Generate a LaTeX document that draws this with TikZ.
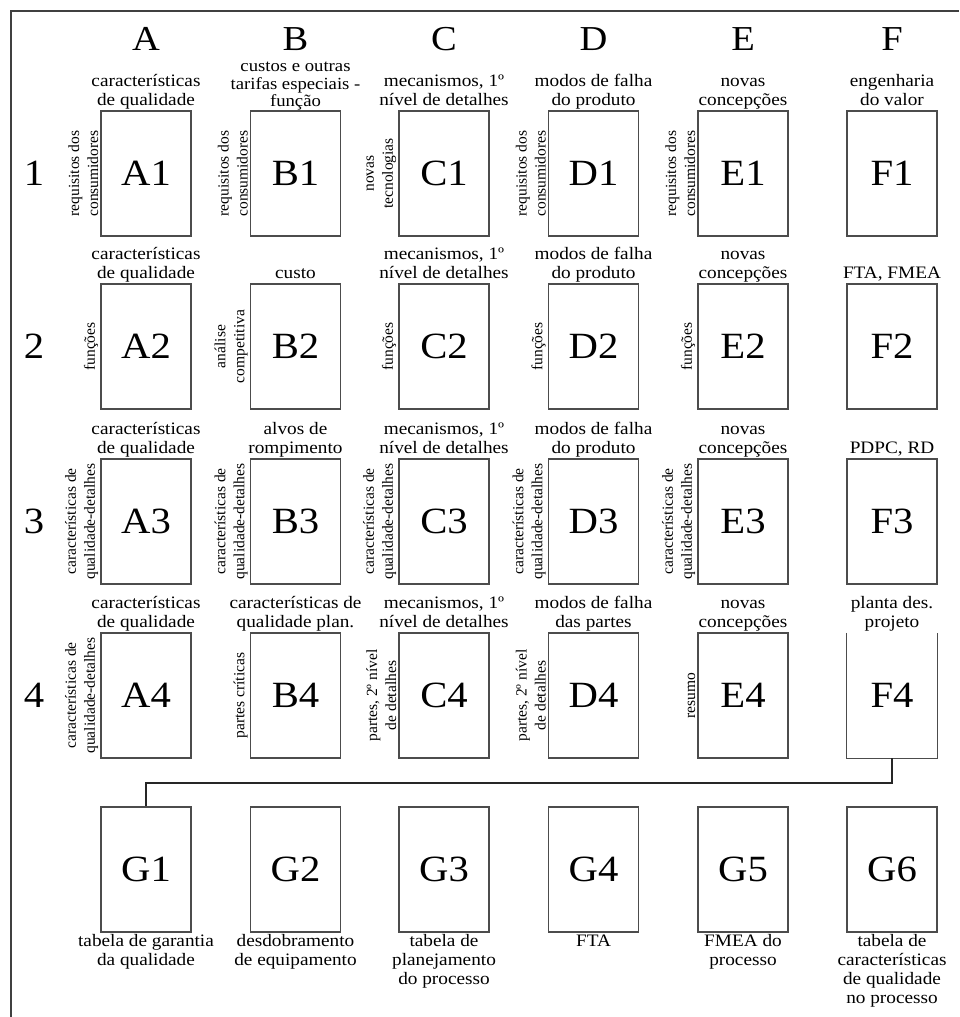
\documentclass[tikz,border=0pt]{standalone}
\usepackage{fontspec}
\setmainfont{Liberation Serif}
\newfontfamily\wideserif[FakeStretch=1.1]{Liberation Serif}
\usetikzlibrary{calc}
\definecolor{boxgray}{gray}{0.3}
\definecolor{framegray}{gray}{0.25}
\tikzset{
  box/.style={draw=boxgray, line width=1.3pt, minimum width=90pt, minimum height=125pt,
    inner sep=0pt, font=\wideserif\fontsize{37}{40}\selectfont},
  openbox/.style={minimum width=90pt, minimum height=125pt,
    inner sep=0pt, font=\wideserif\fontsize{37}{40}\selectfont},
  toplab/.style={anchor=south, inner sep=1pt, align=center,
    font=\wideserif\fontsize{17.5}{19}\selectfont, execute at end node={\vphantom{q}}},
  tightlab/.style={toplab, inner ysep=0pt, font=\wideserif\fontsize{17}{17.5}\selectfont},
  botlab/.style={anchor=north, inner sep=1pt, align=center,
    font=\wideserif\fontsize{17.5}{19}\selectfont, execute at begin node={\vphantom{l}}},
  sidelab/.style={rotate=90, anchor=south, inner sep=1pt, align=center,
    font=\fontsize{15.5}{19}\selectfont},
  head/.style={anchor=base, inner sep=0pt, font=\wideserif\fontsize{35}{40}\selectfont},
  rownum/.style={inner sep=0pt, font=\wideserif\fontsize{37}{40}\selectfont},
  conn/.style={line width=1.6pt, draw=black!85},
  frameline/.style={line width=2pt, draw=framegray}
}
\begin{document}
\begin{tikzpicture}[x=1pt, y=-1pt]
\useasboundingbox (0,0) rectangle (959,1017);
% frame
\draw[frameline] (11,1017) -- (11,11) -- (959,11);

% column headers
\foreach \c/\x in {A/146,B/295.5,C/444,D/593.5,E/743,F/892}{
  \node[head] (h\c) at (\x,50) {\c};
}
% row numbers
\foreach \r/\y in {1/173.5,2/346.5,3/521.5,4/695.5}{
  \node[rownum] (n\r) at (34,\y) {\r};
}
% boxes rows 1-3
\foreach \c/\x in {A/146,B/295.5,C/444,D/593.5,E/743,F/892}{
  \foreach \r/\y in {1/173.5,2/346.5,3/521.5}{
    \node[box] (\c\r) at (\x,\y) {\c\r};
  }
}
% row 4
\foreach \c/\x in {A/146,B/295.5,C/444,D/593.5,E/743}{
  \node[box] (\c4) at (\x,695.5) {\c4};
}
\node[openbox] (F4) at (892,695.5) {F4};
\draw[draw=boxgray, line width=1.3pt] (F4.north west) -- (F4.south west) -- (F4.south east) -- (F4.north east);
% bottom row
\foreach \g/\x in {1/146,2/295.5,3/444,4/593.5,5/743,6/892}{
  \node[box] (G\g) at (\x,869.5) {G\g};
}

% top labels
\foreach \r in {1,2,3,4}{
  \node[toplab] (tA\r) at (A\r.north) {características\\de qualidade};
  \node[toplab] (tC\r) at (C\r.north) {mecanismos, 1º\\nível de detalhes};
}
\foreach \r in {1,2,3}{
  \node[toplab] (tD\r) at (D\r.north) {modos de falha\\do produto};
}
\foreach \r in {1,2,3,4}{
  \node[toplab] (tE\r) at (E\r.north) {novas\\concepções};
}
\node[toplab] (tD4) at (D4.north) {modos de falha\\das partes};
\node[tightlab] (tB1) at (B1.north) {custos e outras\\tarifas especiais -\\função};
\node[toplab] (tB2) at (B2.north) {custo};
\node[toplab] (tB3) at (B3.north) {alvos de\\rompimento};
\node[toplab] (tB4) at (B4.north) {características de\\qualidade plan.};
\node[toplab] (tF1) at (F1.north) {engenharia\\do valor};
\node[toplab] (tF2) at (F2.north) {FTA, FMEA};
\node[toplab] (tF3) at (F3.north) {PDPC, RD};
\node[toplab] (tF4) at (F4.north) {planta des.\\projeto};

% side labels
\foreach \c in {A,B,D,E}{
  \node[sidelab] (s\c1) at ($(\c1.west)+(-1,0)$) {requisitos dos\\consumidores};
}
\node[sidelab] (sC1) at ($(C1.west)+(-1,0)$) {novas\\tecnologias};
\foreach \c in {A,C,D,E}{
  \node[sidelab] (s\c2) at ($(\c2.west)+(-1,0)$) {funções};
}
\node[sidelab] (sB2) at ($(B2.west)+(-1,0)$) {análise\\competitiva};
\foreach \c in {A,B,C,D,E}{
  \node[sidelab] (s\c3) at ($(\c3.west)+(-1,0)$) {características de\\qualidade-detalhes};
}
\node[sidelab] (sA4) at ($(A4.west)+(-1,0)$) {características de\\qualidade-detalhes};
\node[sidelab] (sB4) at ($(B4.west)+(-1,0)$) {partes críticas};
\node[sidelab] (sC4) at ($(C4.west)+(-1,0)$) {partes, 2º nível\\de detalhes};
\node[sidelab] (sD4) at ($(D4.west)+(-1,0)$) {partes, 2º nível\\de detalhes};
\node[sidelab] (sE4) at ($(E4.west)+(-1,0)$) {resumo};

% bottom labels
\node[botlab] (bG1) at (G1.south) {tabela de garantia\\da qualidade};
\node[botlab] (bG2) at (G2.south) {desdobramento\\de equipamento};
\node[botlab] (bG3) at (G3.south) {tabela de\\planejamento\\do processo};
\node[botlab] (bG4) at (G4.south) {FTA};
\node[botlab] (bG5) at (G5.south) {FMEA do\\processo};
\node[botlab] (bG6) at (G6.south) {tabela de\\características\\de qualidade\\no processo};

% connector F4 -> G1
\coordinate (bus) at (0,783);
\draw[conn] (F4.south) -- (F4.south |- bus) -- (G1.north |- bus) -- (G1.north);
\end{tikzpicture}
\end{document}
